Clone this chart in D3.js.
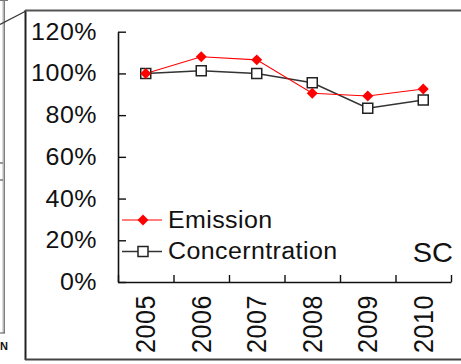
<!DOCTYPE html>
<html>
<head>
<meta charset="utf-8">
<script src="https://cdn.jsdelivr.net/npm/d3@7"></script>
<style>
  html, body { margin: 0; padding: 0; background: #fff; }
  svg { display: block; }
  text { font-family: "Liberation Sans", Arial, sans-serif; fill: #111; }
</style>
</head>
<body>
<svg id="chart" width="461" height="364"></svg>
<script>
// Yearly index values relative to 2005
const years = ["2005", "2006", "2007", "2008", "2009", "2010"];
const emission = [1.00, 1.08, 1.065, 0.905, 0.892, 0.925];
const concentration = [1.00, 1.013, 1.00, 0.955, 0.833, 0.872];
const yTicks = [0, 0.2, 0.4, 0.6, 0.8, 1.0, 1.2];
const seriesNames = ["Emission", "Concerntration"];
const panelLabel = "SC";

const W = 461, H = 364;
const SY = 0.93; // vertical squeeze of the lettering
const plot = { left: 118, right: 451, top: 31.7, bottom: 282 };

const svg = d3.select("#chart");
svg.append("rect").attr("width", W).attr("height", H).attr("fill", "#fff");

// Frame of the neighbouring panel, cut off at the left edge
const deco = svg.append("g").attr("fill", "none");
deco.append("line").attr("x1", 3.5).attr("y1", 0).attr("x2", 3.5).attr("y2", 333)
  .attr("stroke", "#b8b8b8").attr("stroke-width", 2);
deco.append("line").attr("x1", 4.5).attr("y1", 0).attr("x2", 4.5).attr("y2", 333)
  .attr("stroke", "#666").attr("stroke-width", 0.8);
deco.append("line").attr("x1", 0).attr("y1", 333).attr("x2", 5).attr("y2", 333)
  .attr("stroke", "#555").attr("stroke-width", 1);
deco.append("line").attr("x1", 0).attr("y1", 0.5).attr("x2", 8).attr("y2", 0.5)
  .attr("stroke", "#777").attr("stroke-width", 1);
deco.append("line").attr("x1", 0).attr("y1", 24.5).attr("x2", 26).attr("y2", 11)
  .attr("stroke", "#333").attr("stroke-width", 1.2);
[163, 180].forEach(yy => deco.append("line").attr("x1", 0).attr("y1", yy).attr("x2", 3).attr("y2", yy)
  .attr("stroke", "#777").attr("stroke-width", 1.5));
svg.append("text").attr("x", 0).attr("y", 350).text("N")
  .style("font-size", "11px").style("font-weight", "bold").attr("fill", "#222");

// Panel border
const frame = svg.append("g").attr("fill", "none");
frame.append("line").attr("x1", 25.5).attr("y1", 10).attr("x2", 25.5).attr("y2", 360)
  .attr("stroke", "#222").attr("stroke-width", 2);
frame.append("line").attr("x1", 25).attr("y1", 10.5).attr("x2", W).attr("y2", 10.5)
  .attr("stroke", "#555").attr("stroke-width", 2);
frame.append("line").attr("x1", 25).attr("y1", 359.5).attr("x2", W).attr("y2", 359.5)
  .attr("stroke", "#444").attr("stroke-width", 2);

// Scales
const x = d3.scaleBand().domain(years).range([plot.left, plot.right]).padding(0);
const xEdge = d3.scaleLinear().domain([0, years.length]).range([plot.left, plot.right]);
const y = d3.scaleLinear().domain([0, 1.2]).range([plot.bottom, plot.top]);
const cx = d => x(d) + x.bandwidth() / 2;

// Y axis with inward ticks
const yAxis = svg.append("g").attr("transform", `translate(${plot.left},0)`)
  .call(d3.axisLeft(y).tickValues(yTicks).tickFormat(d3.format(".0%"))
    .tickSizeInner(-8).tickSizeOuter(0).tickPadding(21));
yAxis.select(".domain").attr("stroke", "#111").attr("stroke-width", 1.6);
yAxis.selectAll(".tick line").attr("stroke", "#111").attr("stroke-width", 1.4);
yAxis.selectAll(".tick text")
  .attr("transform", `scale(1,${SY})`)
  .style("font-size", "25px").style("letter-spacing", "0.5px").attr("fill", "#2a2a2a");

// X axis: ticks on category boundaries
const xAxis = svg.append("g").attr("transform", `translate(0,${plot.bottom})`)
  .call(d3.axisBottom(xEdge).tickValues(d3.range(0, years.length + 1))
    .tickFormat("").tickSizeInner(-7).tickSizeOuter(0));
xAxis.select(".domain").attr("stroke", "#111").attr("stroke-width", 1.6);
xAxis.selectAll(".tick line").attr("stroke", "#111").attr("stroke-width", 1.4);

// Category labels, rotated
const xLab = svg.append("g").attr("transform", `translate(0,${plot.bottom})`)
  .call(d3.axisBottom(x).tickSize(0).tickPadding(0));
xLab.select(".domain").remove();
xLab.selectAll(".tick text")
  .attr("y", 0).attr("dy", "0.36em")
  .attr("text-anchor", "end")
  .attr("transform", `translate(0,13) scale(1,${SY}) rotate(-90)`)
  .style("font-size", "27px").style("letter-spacing", "0.6px").attr("fill", "#2a2a2a");

// Series
const line = d3.line().x((d, i) => cx(years[i])).y(d => y(d));
const diamond = d3.symbol().type(d3.symbolSquare).size(60);
const square = d3.symbol().type(d3.symbolSquare).size(100);

svg.append("path").datum(concentration).attr("d", line)
  .attr("fill", "none").attr("stroke", "#333").attr("stroke-width", 1.5);
svg.append("path").datum(emission).attr("d", line)
  .attr("fill", "none").attr("stroke", "#ff0000").attr("stroke-width", 1.1);

svg.append("g").selectAll("path").data(concentration).join("path")
  .attr("d", square)
  .attr("transform", (d, i) => `translate(${cx(years[i])},${y(d)})`)
  .attr("fill", "#fff").attr("stroke", "#222").attr("stroke-width", 1.5);
svg.append("g").selectAll("path").data(emission).join("path")
  .attr("d", diamond)
  .attr("transform", (d, i) => `translate(${cx(years[i])},${y(d)}) rotate(45)`)
  .attr("fill", "#ff0000");

// Legend
const legend = svg.append("g");
const legendRows = [
  { name: seriesNames[0], y: 220, color: "#ff0000", sym: "diamond" },
  { name: seriesNames[1], y: 251.5, color: "#333", sym: "square" }
];
legendRows.forEach(r => {
  const g = legend.append("g").attr("transform", `translate(0,${r.y})`);
  g.append("line").attr("x1", 122).attr("x2", 162).attr("y1", 0).attr("y2", 0)
    .attr("stroke", r.color).attr("stroke-width", r.sym === "diamond" ? 1.2 : 1.5);
  if (r.sym === "diamond") {
    g.append("path").attr("d", diamond).attr("transform", "translate(143,0) rotate(45)")
      .attr("fill", "#ff0000");
  } else {
    g.append("path").attr("d", square).attr("transform", "translate(143,0)")
      .attr("fill", "#fff").attr("stroke", "#222").attr("stroke-width", 1.5);
  }
  g.append("text").attr("transform", `translate(168,0) scale(1,${SY})`)
    .attr("dy", "0.33em").text(r.name)
    .style("font-size", "25px").style("letter-spacing", "0.4px").attr("fill", "#2a2a2a");
});

// Panel label
svg.append("text").attr("transform", `translate(453,261.5) scale(1,${SY * 1.03})`)
  .attr("text-anchor", "end").text(panelLabel)
  .style("font-size", "29px").attr("fill", "#111");
</script>
</body>
</html>
